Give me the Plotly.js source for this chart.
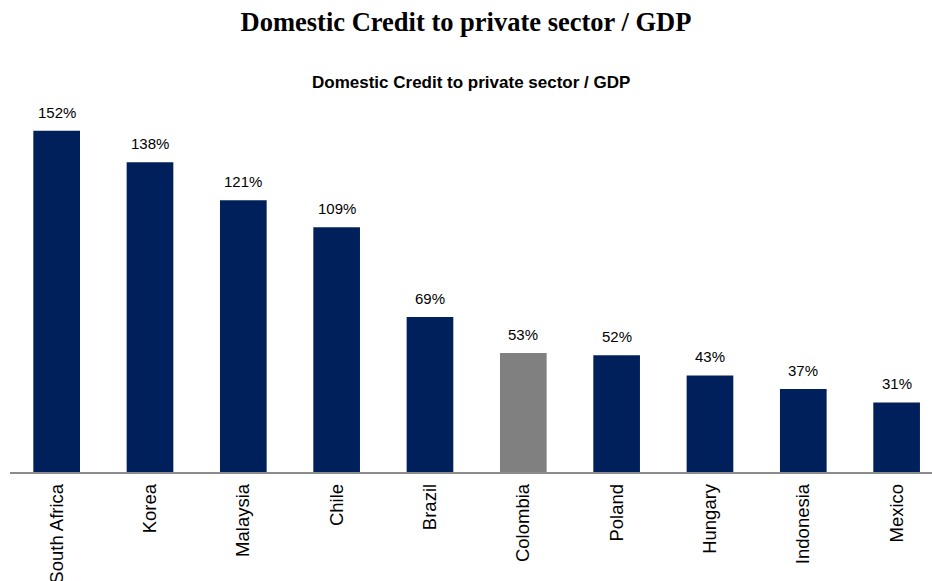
<!DOCTYPE html>
<html>
<head>
<meta charset="utf-8">
<script src="https://cdn.plot.ly/plotly-3.0.1.min.js"></script>
<style>html,body{margin:0;padding:0;background:#fff;}#chart{width:932px;height:581px;}</style>
</head>
<body>
<div id="chart"></div>
<script>
const categories = ["South Africa","Korea","Malaysia","Chile","Brazil","Colombia","Poland","Hungary","Indonesia","Mexico"];
const values = [152,138,121,109,69,53,52,43,37,31];
const labels = ["152%","138%","121%","109%","69%","53%","52%","43%","37%","31%"];
const highlight = "Colombia";

const navy = "#00205B";
const grey = "#808080";
const colors = categories.map(c => c === highlight ? grey : navy);

const trace = {
  type: "bar",
  x: categories,
  y: values,
  width: 0.5,
  marker: {color: colors, line: {width: 0}},
  hoverinfo: "none"
};

const annotations = categories.map((c, i) => ({
  x: c, y: values[i], xref: "x", yref: "y",
  text: labels[i], showarrow: false,
  yanchor: "bottom", yshift: 8,
  font: {family: "Liberation Sans, Arial, sans-serif", size: 15, color: "#000"}
}));
annotations.push({
  x: 0.5, y: 1 + (100 - 82) / 372, xref: "paper", yref: "paper",
  yanchor: "middle",
  text: "<b>Domestic Credit to private sector / GDP</b>", showarrow: false,
  font: {family: "Liberation Sans, Arial, sans-serif", size: 17, color: "#000"}
});

const layout = {
  width: 932, height: 581,
  margin: {l: 10, r: 0, t: 100, b: 109, pad: 0},
  paper_bgcolor: "#fff", plot_bgcolor: "#fff",
  title: {
    text: "<b>Domestic Credit to private sector / GDP</b>",
    font: {family: "Liberation Serif, Times New Roman, serif", size: 26.5, color: "#000"},
    x: 0.5, xanchor: "center", y: 0.962, yanchor: "middle"
  },
  showlegend: false,
  xaxis: {
    type: "category",
    range: [-0.5, 9.379],
    showgrid: false, zeroline: false,
    showline: true, linecolor: "#8c8c8c", linewidth: 1.5,
    ticks: "", tickangle: -90, ticklabelstandoff: 3,
    tickfont: {family: "Liberation Sans, Arial, sans-serif", size: 18.5, color: "#000"},
    fixedrange: true
  },
  yaxis: {
    range: [0, 165.7],
    visible: false, showgrid: false, zeroline: false, fixedrange: true
  },
  annotations: annotations
};

Plotly.newPlot("chart", [trace], layout, {displayModeBar: false, staticPlot: true});
</script>
</body>
</html>
